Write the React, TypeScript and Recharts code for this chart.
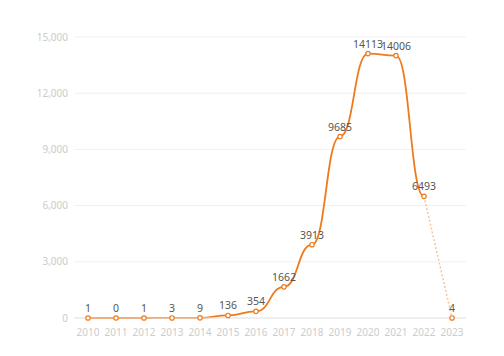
import React from 'react';
import { LineChart, Line, XAxis, YAxis, CartesianGrid, LabelList } from 'recharts';

const years = ['2010','2011','2012','2013','2014','2015','2016','2017','2018','2019','2020','2021','2022','2023'];
const solidValues: (number | null)[] = [1, 0, 1, 3, 9, 136, 354, 1662, 3913, 9685, 14113, 14006, 6493, null];
const dottedValues: (number | null)[] = [null, null, null, null, null, null, null, null, null, null, null, null, 6493, 4];
const yTicks = [0, 3000, 6000, 9000, 12000, 15000];

const data = years.map((y, i) => ({ year: y, solid: solidValues[i], dotted: dottedValues[i] }));

const ORANGE = '#ef7a1c';
const LIGHT = '#f7c49a';
const FONT = '"Noto Sans", "Open Sans", sans-serif';

const fmt = (v: number) => v.toLocaleString('en-US');

const DottedLabel = (props: any) => {
  const { x, y, value, index } = props;
  if (index !== 13 || value == null) return null;
  return (
    <text x={x} y={y - 6} textAnchor="middle" fill="#555" fontSize={10.5} fontFamily={FONT}>
      {value}
    </text>
  );
};

const DottedDot = (props: any) => {
  const { cx, cy, index } = props;
  if (index !== 13 || cy == null) return <g key={`d${index}`} />;
  return <circle key={`d${index}`} cx={cx} cy={cy} r={2.2} fill="#fff" stroke={ORANGE} strokeWidth={1.2} />;
};

export default function App() {
  return (
    <div style={{ position: 'absolute', left: 0, top: 0 }}>
      <LineChart width={504} height={356} data={data} margin={{ top: 37, right: 38, bottom: 8, left: 0 }}>
        <CartesianGrid vertical={false} stroke="#f0f0f0" />
        <XAxis
          dataKey="year"
          padding={{ left: 14, right: 14 }}
          tickLine={false}
          axisLine={{ stroke: '#e6e6e6' }}
          tick={{ fill: '#cccccc', fontSize: 10, fontFamily: FONT }}
          tickMargin={5}
          interval={0}
          height={30}
        />
        <YAxis
          domain={[0, 15000]}
          ticks={yTicks}
          tickFormatter={fmt}
          axisLine={false}
          tickLine={false}
          tick={{ fill: '#cccccc', fontSize: 10, fontFamily: FONT }}
          width={74}
          tickSize={4}
          interval={0}
        />
        <Line
          type="linear"
          dataKey="dotted"
          stroke={LIGHT}
          strokeWidth={1.5}
          strokeDasharray="2 2"
          dot={DottedDot}
          activeDot={false}
          connectNulls={false}
          isAnimationActive={false}
        >
          <LabelList dataKey="dotted" content={DottedLabel} />
        </Line>
        <Line
          type="bump"
          dataKey="solid"
          stroke={ORANGE}
          strokeWidth={1.8}
          dot={{ r: 2.2, fill: '#fff', stroke: ORANGE, strokeWidth: 1.2 }}
          activeDot={false}
          isAnimationActive={false}
        >
          <LabelList dataKey="solid" position="top" offset={6} fill="#555" fontSize={10.5} fontFamily={FONT} />
        </Line>
      </LineChart>
    </div>
  );
}
